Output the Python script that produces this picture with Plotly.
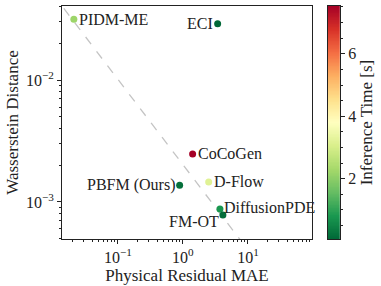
import numpy as np
import plotly.graph_objects as go

methods = ["PIDM-ME", "ECI", "CoCoGen", "D-Flow", "PBFM (Ours)", "DiffusionPDE", "FM-OT"]
residual_mae = [0.021, 3.42, 1.41, 2.49, 0.89, 3.71, 4.12]
wasserstein = [0.0315, 0.029, 0.00248, 0.00146, 0.00137, 0.000877, 0.00078]
inference_time = [2.2, 0.07, 7.53, 3.2, 0.2, 0.8, 0.15]

trend_x = [0.01, 10]
trend_y = [0.0508, 0.000404]

x_tickvals = [0.1, 1, 10]
x_ticktext = ["10<sup>−1</sup>", "10<sup>0</sup>", "10<sup>1</sup>"]
y_tickvals = [0.001, 0.01]
y_ticktext = ["10<sup>−3</sup>", "10<sup>−2</sup>"]
cb_tickvals = [2, 4, 6]

# label placement: (xanchor, xshift, yshift)
label_pos = {
    "PIDM-ME": ("left", 3, 0),
    "ECI": ("right", -3, 0),
    "CoCoGen": ("left", 3, 0),
    "D-Flow": ("left", 3, 0),
    "PBFM (Ours)": ("right", -3, 0),
    "DiffusionPDE": ("left", 2, 1),
    "FM-OT": ("right", -2, -6),
}

FONT = "Liberation Serif"
cmin, cmax = min(inference_time), max(inference_time)

fig = go.Figure()
fig.add_trace(go.Scatter(
    x=trend_x, y=trend_y, mode="lines",
    line=dict(color="#c4c4c4", width=1.3, dash="dash"),
    showlegend=False, hoverinfo="skip",
))
fig.add_trace(go.Scatter(
    x=residual_mae, y=wasserstein, mode="markers",
    marker=dict(size=7, color=inference_time, colorscale="RdYlGn", reversescale=True,
                cmin=cmin, cmax=cmax, showscale=False, line=dict(width=0)),
    showlegend=False,
))

# colorbar as a gradient heatmap on its own axes
grad = np.linspace(cmin, cmax, 300)
fig.add_trace(go.Heatmap(
    x=[0], y=grad, z=[[v] for v in grad],
    colorscale="RdYlGn", reversescale=True, zmin=cmin, zmax=cmax,
    showscale=False, xaxis="x2", yaxis="y2", hoverinfo="skip",
))

for m, xv, yv in zip(methods, residual_mae, wasserstein):
    xa, xs, ys = label_pos[m]
    fig.add_annotation(
        x=np.log10(xv), y=np.log10(yv), xref="x", yref="y",
        text=m, showarrow=False, xanchor=xa, yanchor="middle",
        xshift=xs, yshift=ys, font=dict(family=FONT, size=16, color="#222"),
    )

minor_x = [k * 10.0 ** e for e in range(-2, 3) for k in range(2, 10)]
minor_y = [k * 10.0 ** e for e in range(-4, 0) for k in range(2, 10)]

fig.update_layout(
    width=381, height=286,
    margin=dict(l=62, r=20, t=6, b=47),
    paper_bgcolor="white", plot_bgcolor="white",
    font=dict(family=FONT, size=16, color="#222"),
    xaxis=dict(
        type="log", range=[-1.86, 1.985], domain=[0, 0.836], automargin=False,
        showline=True, linecolor="#222", linewidth=1, mirror=True,
        ticks="outside", ticklen=4, tickcolor="#222", showgrid=False, zeroline=False,
        tickvals=x_tickvals, ticktext=x_ticktext, tickfont=dict(size=16),
        minor=dict(tickvals=minor_x, ticks="outside", ticklen=2, tickcolor="#222"),
        title=dict(text="Physical Residual MAE", font=dict(size=17), standoff=2),
    ),
    yaxis=dict(
        type="log", range=[-3.304, -1.392], automargin=False,
        showline=True, linecolor="#222", linewidth=1, mirror=True,
        ticks="outside", ticklen=4, tickcolor="#222", showgrid=False, zeroline=False,
        tickvals=y_tickvals, ticktext=y_ticktext, tickfont=dict(size=16),
        minor=dict(tickvals=minor_y, ticks="outside", ticklen=2, tickcolor="#222"),
        title=dict(text="Wasserstein Distance", font=dict(size=17), standoff=2),
    ),
    xaxis2=dict(
        domain=[0.889, 0.930], range=[-0.5, 0.5], anchor="y2", automargin=False,
        showticklabels=False, ticks="", showgrid=False, zeroline=False,
        showline=True, linecolor="#222", linewidth=1, mirror=True,
    ),
    yaxis2=dict(
        anchor="x2", side="right", range=[cmin, cmax], domain=[0, 1.0], automargin=False,
        tickvals=cb_tickvals, ticks="outside", ticklen=4, tickcolor="#222",
        tickfont=dict(size=16),
        minor=dict(dtick=0.5, ticks="outside", ticklen=2, tickcolor="#222", showgrid=False),
        showgrid=False, zeroline=False,
        showline=True, linecolor="#222", linewidth=1, mirror=True,
        title=dict(text="Inference Time [s]", font=dict(size=17), standoff=4),
    ),
)

fig.write_html("out.html", config={"displayModeBar": False},
               post_script="document.body.style.margin='0';")
